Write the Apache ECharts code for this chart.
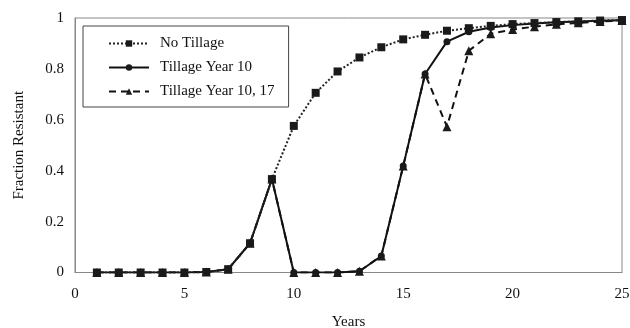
<!DOCTYPE html>
<html><head><meta charset="utf-8">
<script src="https://cdn.jsdelivr.net/npm/echarts@6/dist/echarts.min.js"></script>
<style>html,body{margin:0;padding:0;background:#fff}#c{width:630px;height:328px}</style>
</head><body><div id="c"></div>
<script>
const years = [1,2,3,4,5,6,7,8,9,10,11,12,13,14,15,16,17,18,19,20,21,22,23,24,25];
const noTillage = [0,0,0,0,0,0.002,0.013,0.115,0.367,0.576,0.706,0.79,0.845,0.885,0.916,0.934,0.95,0.96,0.969,0.976,0.98,0.984,0.987,0.99,0.992];
const tillage10 = [0,0,0,0,0,0.002,0.013,0.115,0.367,0,0,0,0.005,0.065,0.418,0.78,0.907,0.946,0.963,0.972,0.978,0.983,0.986,0.989,0.991];
const tillage1017 = [0,0,0,0,0,0.002,0.013,0.115,0.367,0,0,0,0.005,0.065,0.418,0.78,0.573,0.871,0.938,0.955,0.966,0.975,0.981,0.986,0.99];
const seriesNames = ['No Tillage','Tillage Year 10','Tillage Year 10, 17'];
const xTicks = [0,5,10,15,20,25];
const yTicks = [0,0.2,0.4,0.6,0.8,1];

const pair = arr => years.map((y,i)=>[y,arr[i]]);
const font = 'Liberation Serif';
const chart = echarts.init(document.getElementById('c'));
chart.setOption({
  animation:false,
  grid:{left:75,right:8,top:18,bottom:55.5,show:true,borderColor:'#888',borderWidth:1,
    outerBoundsMode:'none',containLabel:false},
  legend:{
    orient:'vertical',left:83,top:26,
    data:seriesNames,
    borderColor:'#444',borderWidth:1,
    padding:[10,14,8,25],
    itemWidth:40,itemHeight:8,itemGap:9,
    textStyle:{fontFamily:font,fontSize:15,color:'#111',padding:[0,0,0,6]}
  },
  xAxis:{
    type:'value',min:0,max:25,interval:5,
    name:'Years',nameLocation:'middle',nameGap:42,
    nameTextStyle:{fontFamily:font,fontSize:15,color:'#111'},
    axisLine:{lineStyle:{color:'#888'}},axisTick:{show:false},splitLine:{show:false},
    axisLabel:{fontFamily:font,fontSize:15,color:'#111',margin:14,
      formatter:v=>xTicks.includes(v)?String(v):''}
  },
  yAxis:{
    type:'value',min:0,max:1,interval:0.2,
    name:'Fraction Resistant',nameLocation:'middle',nameGap:48,
    nameTextStyle:{fontFamily:font,fontSize:15,color:'#111'},
    axisLine:{show:true,lineStyle:{color:'#888'}},axisTick:{show:false},splitLine:{show:false},
    axisLabel:{fontFamily:font,fontSize:15,color:'#111',margin:11,
      formatter:v=>{const t=yTicks.find(k=>Math.abs(k-v)<1e-9);return t===undefined?'':String(t);}}
  },
  series:[
    {name:seriesNames[1],type:'line',data:pair(tillage10),z:2,
      symbol:'circle',symbolSize:7,showAllSymbol:true,
      itemStyle:{color:'#1a1a1a'},lineStyle:{color:'#111',width:2,type:'solid'}},
    {name:seriesNames[2],type:'line',data:pair(tillage1017),z:3,
      symbol:'triangle',symbolSize:9,showAllSymbol:true,
      itemStyle:{color:'#1a1a1a'},lineStyle:{color:'#111',width:2,type:[7,5]}},
    {name:seriesNames[0],type:'line',data:pair(noTillage),z:4,
      symbol:'rect',symbolSize:8,showAllSymbol:true,
      itemStyle:{color:'#1a1a1a'},lineStyle:{color:'#222',width:2,type:'dotted'}}
  ]
});
</script></body></html>
